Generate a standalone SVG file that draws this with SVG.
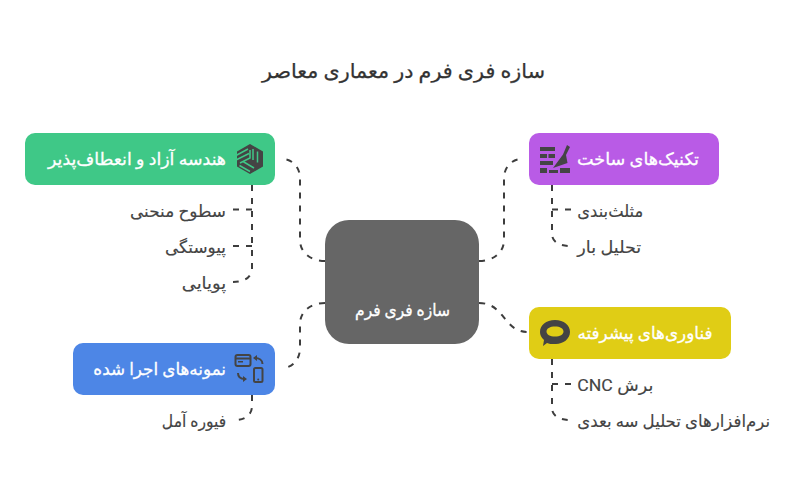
<svg xmlns="http://www.w3.org/2000/svg" width="804" height="480" viewBox="0 0 804 480">
<style>
text{font-family:"Roboto","DejaVu Sans",sans-serif;direction:rtl;text-anchor:middle}
.t{font-size:20px;fill:#333;stroke:#333;stroke-width:.25}
.h{font-size:17px;fill:#fff;stroke:#fff;stroke-width:.3}
.l{font-size:17px;fill:#444;stroke:#444;stroke-width:.15}
.c{fill:none;stroke:#3d3d3d;stroke-width:2;stroke-dasharray:6 7}
.i{fill:#444}
.o{fill:none;stroke:#444;stroke-width:2}
</style>
<rect width="804" height="480" fill="#fff"/>
<text class="t" x="403.500" y="78" textLength="283" lengthAdjust="spacingAndGlyphs">سازه فری فرم در معماری معاصر</text>
<g id="connectors">
<path class="c" d="M325 261C310 261 300 252 300 240V178C300 168 293 159 282 159"/>
<path class="c" d="M479 261C494 261 504 252 504 240V178C504 168 511 159 522 159"/>
<path class="c" d="M479 303C505 303 503 332 528 332"/>
<path class="c" d="M325 303C310 303 300 312 300 324V348C300 359 293 368 282 368"/>
<path class="c" d="M252 185V268C252 276 246 282 233 282"/>
<path class="c" d="M252 209.500H233"/>
<path class="c" d="M252 246H233"/>
<path class="c" d="M552 185V234C552 241 558 246 571 246"/>
<path class="c" d="M552 209.500H571"/>
<path class="c" d="M552 359V408C552 415 558 420 571 420"/>
<path class="c" d="M552 384H571"/>
<path class="c" d="M252 395V406C252 414 246 420 235 420"/>
</g>
<g id="center"><rect x="325" y="220" width="154" height="124" rx="24" fill="#666"/><text class="h" x="402.500" y="316" textLength="95" lengthAdjust="spacingAndGlyphs">سازه فری فرم</text></g>
<g id="green"><rect x="25" y="133" width="250" height="52" rx="10" fill="#3fc887"/><text class="h" x="137" y="165" textLength="178" lengthAdjust="spacingAndGlyphs">هندسه آزاد و انعطاف‌پذیر</text>
<path class="i" d="M250 144L263 151.500V166.500L250 174L237 166.500V151.500Z"/>
<path fill="none" stroke="#3fc887" stroke-width="1.500" d="M253 149V160M257.500 151.500V162.500M236 155.500L248 149M236 160L249 153.500M243 161.500L254 168M239.500 165.500L250 171.500M250 150V158L240 163"/></g>
<g id="purple"><rect x="529" y="133" width="190" height="52" rx="10" fill="#b95be6"/><text class="h" x="638" y="165" textLength="122" lengthAdjust="spacingAndGlyphs">تکنیک‌های ساخت</text>
<path class="i" d="M540 147H555V151H540ZM540 154H547V158H540ZM548.500 154H555V158H548.500ZM540 161H553V165H540ZM540 168H547V173H540ZM549 170H558V173H549ZM560 168H570V173H560ZM567 145L570 147L566 155L567.500 163L553 168L563 154.500Z"/></g>
<g id="yellow"><rect x="529" y="307" width="202" height="52" rx="10" fill="#e0cd15"/><text class="h" x="645" y="339" textLength="135" lengthAdjust="spacingAndGlyphs">فناوری‌های پیشرفته</text>
<path class="i" fill-rule="evenodd" d="M555 320C564 320 570 325 570 332C570 339 563 344 556 344C551 344 549 344 547 343L543 346L544 340C541 337 540 335 540 332C540 325 546 320 555 320ZM555 326.500C550 326.500 546.500 328.500 546.500 331.500C546.500 334.500 550 336.500 555 336.500C560 336.500 563.500 334.500 563.500 331.500C563.500 328.500 560 326.500 555 326.500Z"/></g>
<g id="blue"><rect x="73" y="343" width="202" height="52" rx="10" fill="#4d86e6"/><text class="h" x="159.700" y="375" textLength="132.700" lengthAdjust="spacingAndGlyphs">نمونه‌های اجرا شده</text>
<rect class="o" x="235.500" y="355" width="15" height="11" rx="2"/><path class="o" d="M236 358.500H250"/><path class="i" d="M238 361H243V362.500H238Z"/>
<rect class="o" x="254" y="368" width="8.500" height="14" rx="1.500"/><circle class="i" cx="258.200" cy="379.500" r="1"/>
<path class="o" d="M262.500 364C262.500 360 259 358 255 358M238 373C238 377 241 379 245 379"/><path class="i" d="M253 358L257 355V361ZM247 379L243 376V382Z"/></g>
<g id="labels">
<text class="l" x="178" y="217" textLength="96" lengthAdjust="spacingAndGlyphs">سطوح منحنی</text>
<text class="l" x="195.500" y="253" textLength="61" lengthAdjust="spacingAndGlyphs">پیوستگی</text>
<text class="l" x="204" y="289" textLength="44.300" lengthAdjust="spacingAndGlyphs">پویایی</text>
<text class="l" x="610.300" y="217" textLength="66" lengthAdjust="spacingAndGlyphs">مثلث‌بندی</text>
<text class="l" x="609.300" y="253" textLength="64" lengthAdjust="spacingAndGlyphs">تحلیل بار</text>
<text class="l" x="615.300" y="391" textLength="76" lengthAdjust="spacingAndGlyphs">برش CNC</text>
<text class="l" x="673.700" y="427" textLength="192.700" lengthAdjust="spacingAndGlyphs">نرم‌افزارهای تحلیل سه بعدی</text>
<text class="l" x="194" y="427" textLength="64.300" lengthAdjust="spacingAndGlyphs">فیوره آمل</text>
</g>
</svg>
